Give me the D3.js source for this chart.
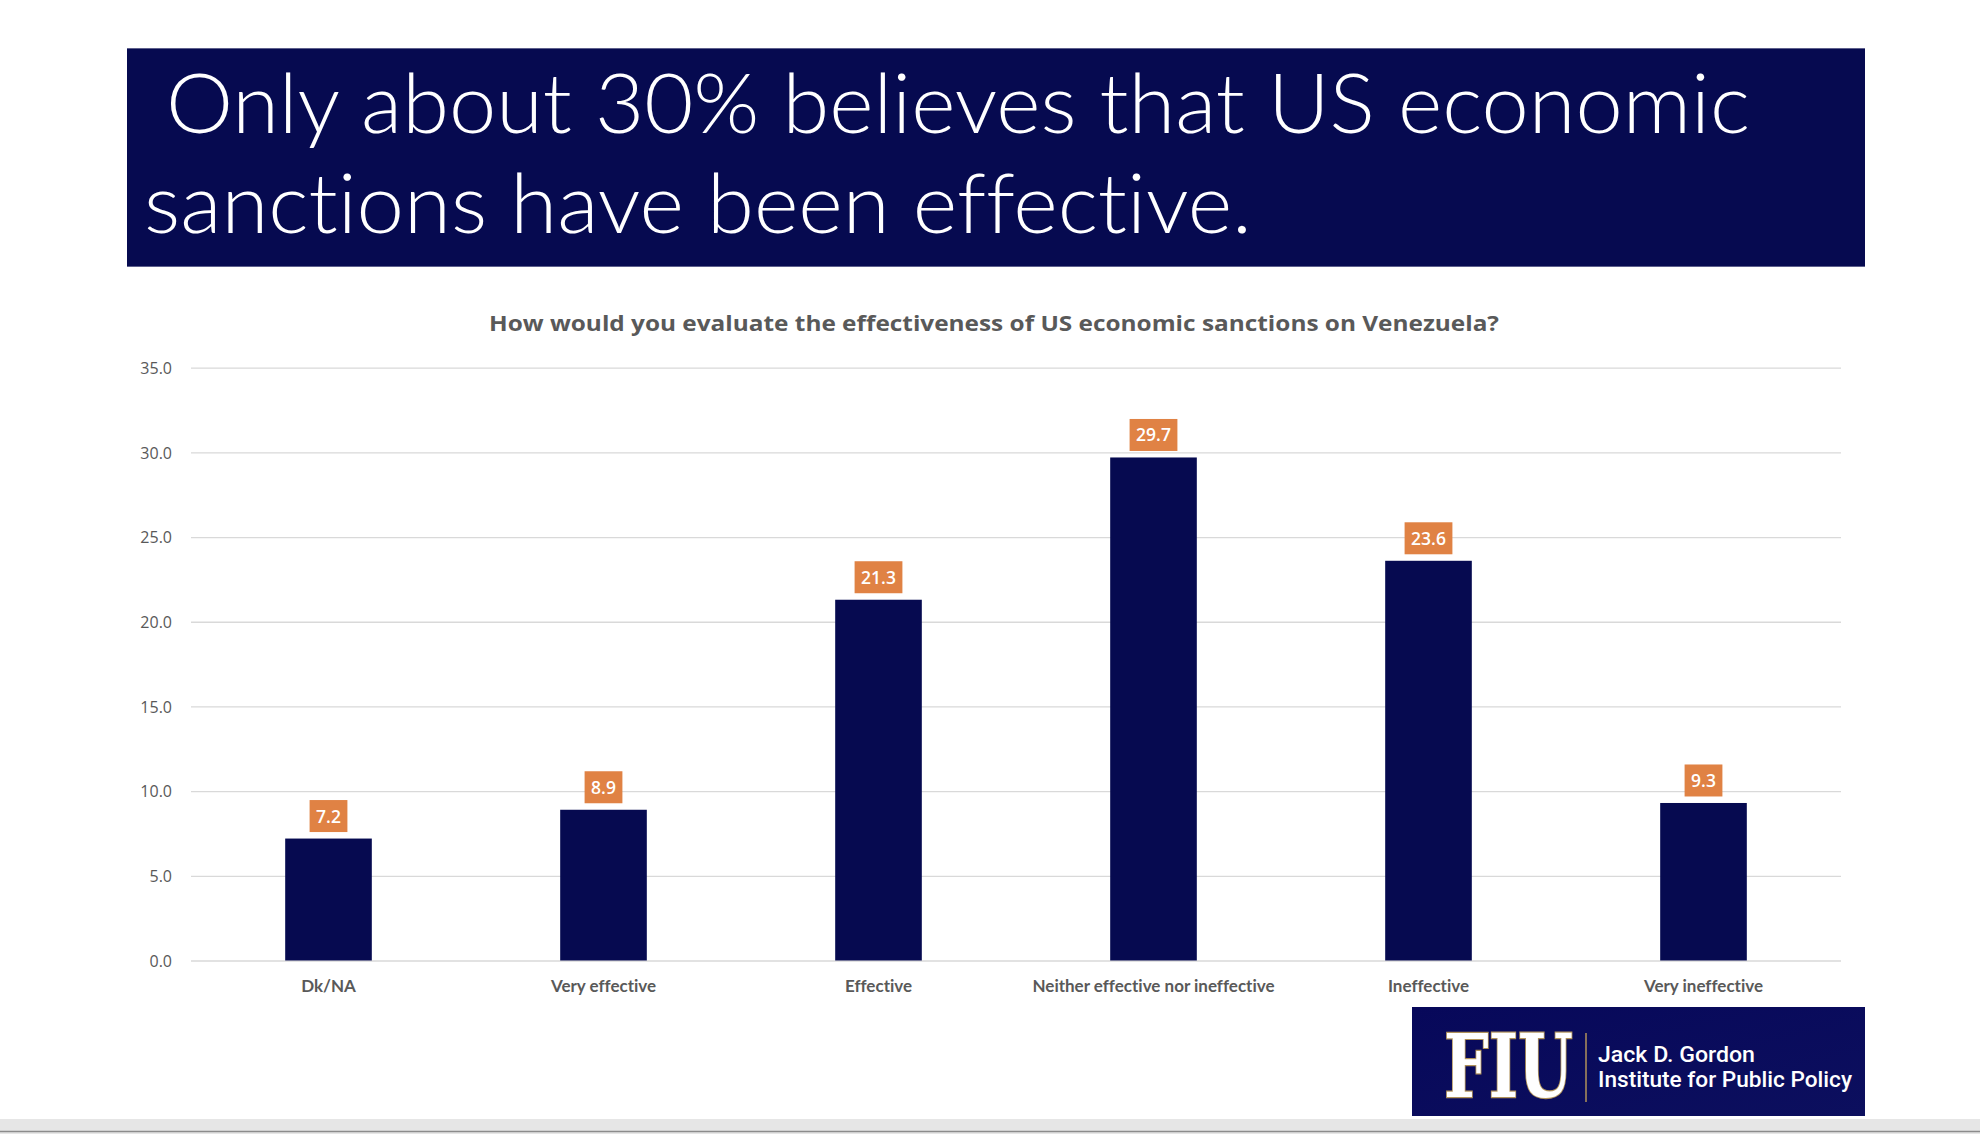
<!DOCTYPE html>
<html>
<head>
<meta charset="utf-8">
<script src="https://cdn.jsdelivr.net/npm/d3@7"></script>
<style>
  html, body { margin: 0; padding: 0; background: #ffffff; }
  svg { display: block; }
  text { font-variant-ligatures: none; font-feature-settings: "liga" 0, "clig" 0; }
</style>
</head>
<body>
<svg id="chart" width="1980" height="1134"></svg>
<script>
// ---- data ----
const titleLines = ["Only about 30% believes that US economic", "sanctions have been effective."];
const chartTitle = "How would you evaluate the effectiveness of US economic sanctions on Venezuela?";
const categories = ["Dk/NA", "Very effective", "Effective", "Neither effective nor ineffective", "Ineffective", "Very ineffective"];
const values = [7.2, 8.9, 21.3, 29.7, 23.6, 9.3];
const yTicks = [0, 5, 10, 15, 20, 25, 30, 35];
const logoLines = ["Jack D. Gordon", "Institute for Public Policy"];
const logoMark = "FIU";

// ---- styles ----
const NAVY = "#060A50";
const ORANGE = "#E08244";
const GRAY_TEXT = "#595959";
const GRID = "#D9D9D9";

const svg = d3.select("#chart");

function fit(sel, w) {
  sel.attr("textLength", w).attr("lengthAdjust", "spacingAndGlyphs");
}

// ---- title banner ----
svg.append("rect")
  .attr("x", 127).attr("y", 48).attr("width", 1738).attr("height", 219)
  .attr("fill", NAVY);
svg.append("line").attr("x1",127).attr("x2",1865).attr("y1",48.5).attr("y2",48.5)
  .attr("stroke","#5d5f8c").attr("stroke-width",1);
svg.append("line").attr("x1",127).attr("x2",1865).attr("y1",266.5).attr("y2",266.5)
  .attr("stroke","#5d5f8c").attr("stroke-width",1);

const titleText = svg.append("text")
  .attr("font-family", "Lato, sans-serif").attr("font-weight", 300)
  .attr("font-size", 82).attr("fill", "#ffffff");
const titleX = [166, 144], titleY = [133, 233], titleW = [1584, 1108];
titleLines.forEach((s, i) => {
  const ts = titleText.append("tspan").attr("x", titleX[i]).attr("y", titleY[i]).text(s);
  fit(ts, titleW[i]);
});

// ---- chart title ----
const ct = svg.append("text")
  .attr("x", 489).attr("y", 331)
  .attr("font-family", "'Open Sans', sans-serif").attr("font-weight", 700)
  .attr("font-size", 21.5).attr("fill", GRAY_TEXT)
  .text(chartTitle);
fit(ct, 1010);

// ---- scales ----
const x = d3.scaleBand().domain(categories).range([191, 1841])
  .paddingInner(0.685).paddingOuter(0.3425);
const y = d3.scaleLinear().domain([0, 35]).range([960.5, 367.7]);

// gridlines + y axis labels
const gAxis = svg.append("g").attr("transform", "translate(191,0)")
  .call(d3.axisLeft(y).tickValues(yTicks).tickFormat(d3.format(".1f"))
    .tickSize(-1650).tickPadding(19));
gAxis.select(".domain").remove();
gAxis.selectAll(".tick line").attr("stroke", GRID).attr("stroke-width", 1.3);
gAxis.selectAll(".tick text")
  .attr("font-family", "'Open Sans', sans-serif").attr("font-size", 16)
  .attr("fill", GRAY_TEXT).attr("dy", "0.36em");

// bars
svg.append("g").selectAll("rect").data(values).join("rect")
  .attr("x", (d, i) => x(categories[i]))
  .attr("y", d => y(d))
  .attr("width", x.bandwidth())
  .attr("height", d => y(0) - y(d))
  .attr("fill", NAVY);

// data labels
const lbl = svg.append("g").selectAll("g").data(values).join("g");
lbl.each(function(d, i) {
  const g = d3.select(this);
  const cx = x(categories[i]) + x.bandwidth() / 2;
  const bottom = y(d) - 6.5;
  const t = g.append("text")
    .attr("x", cx).attr("y", bottom - 9.5)
    .attr("text-anchor", "middle")
    .attr("font-family", "'Open Sans', sans-serif").attr("font-weight", 600)
    .attr("font-size", 17.5).attr("fill", "#ffffff")
    .text(d3.format(".1f")(d));
  const w = t.node().getComputedTextLength();
  g.insert("rect", "text")
    .attr("x", cx - w / 2 - 6.5).attr("y", bottom - 32)
    .attr("width", w + 13).attr("height", 32)
    .attr("fill", ORANGE);
});

// category labels
svg.append("g").selectAll("text").data(categories).join("text")
  .attr("x", d => x(d) + x.bandwidth() / 2)
  .attr("y", 992)
  .attr("text-anchor", "middle")
  .attr("font-family", "Lato, sans-serif").attr("font-weight", 700)
  .attr("font-size", 17).attr("fill", GRAY_TEXT)
  .text(d => d);

// ---- logo ----
const logo = svg.append("g");
const lg = svg.append("defs").append("linearGradient").attr("id", "lgrad")
  .attr("x1", "0").attr("y1", "0").attr("x2", "1").attr("y2", "1");
lg.append("stop").attr("offset", "0").attr("stop-color", "#07085a");
lg.append("stop").attr("offset", "1").attr("stop-color", "#0c0f5e");
logo.append("rect").attr("x", 1412).attr("y", 1007).attr("width", 453).attr("height", 109)
  .attr("fill", "url(#lgrad)");

// FIU mark: size the font so its natural width is the target, then stretch vertically
const fiuG = logo.append("g");
const fiu = fiuG.append("text")
  .attr("x", 0).attr("y", 0)
  .attr("font-family", "'DejaVu Serif', serif").attr("font-weight", 700)
  .attr("font-size", 100).attr("fill", "#ffffff")
  .attr("stroke", "#b0925a").attr("stroke-width", 2).attr("paint-order", "stroke")
  .text(logoMark);
const natW = fiu.node().getComputedTextLength();
const fs = 100 * 129 / natW;
fiu.attr("font-size", fs);
const sy = 64 / (0.729 * fs);
fiuG.attr("transform", `translate(1444,1097) scale(1,${sy})`);
fiu.attr("stroke-width", 2 / Math.sqrt(sy));

logo.append("line").attr("x1", 1586).attr("x2", 1586).attr("y1", 1033).attr("y2", 1102)
  .attr("stroke", "#b0925a").attr("stroke-width", 1.5);
const logoText = logo.append("text")
  .attr("font-family", "Roboto, sans-serif").attr("font-weight", 500)
  .attr("font-size", 22).attr("fill", "#ffffff");
const logoY = [1062, 1087], logoW = [157, 254];
logoLines.forEach((s, i) => {
  const ts = logoText.append("tspan").attr("x", 1598).attr("y", logoY[i]).text(s);
  fit(ts, logoW[i]);
});

// ---- bottom strip ----
svg.append("rect").attr("x", 0).attr("y", 1119).attr("width", 1980).attr("height", 15)
  .attr("fill", "#e6e6e6");
svg.append("line").attr("x1", 0).attr("x2", 1980).attr("y1", 1131.5).attr("y2", 1131.5)
  .attr("stroke", "#8c8c8c").attr("stroke-width", 1.5);
</script>
</body>
</html>
